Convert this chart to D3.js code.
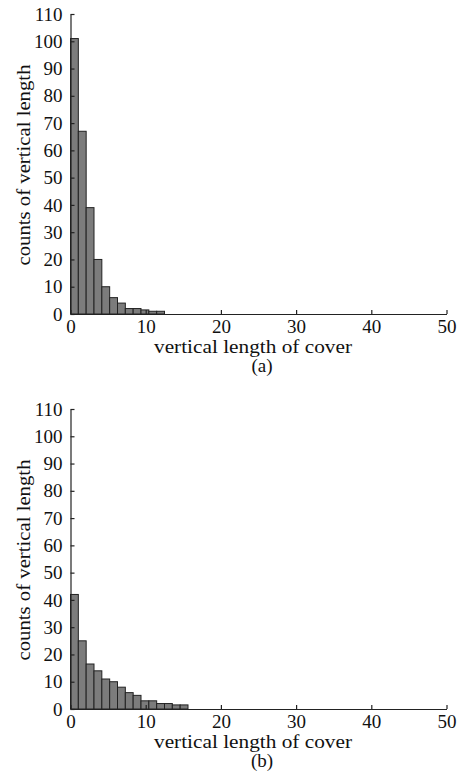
<!DOCTYPE html>
<html>
<head>
    <title>Vertical length histograms</title>
    <script src="https://d3js.org/d3.v7.min.js"></script>
    <style>
        body { margin: 0; background: #fff; }
        text { font-family: "Liberation Serif", "Times New Roman", serif; fill: #111; }
        .axis path, .axis line { stroke: #222; stroke-width: 1.2; }
        .axis text { font-size: 19px; font-family: "Liberation Serif", serif; fill: #111; }
    </style>
</head>
<body>
    <svg width="457" height="782"></svg>

    <script>
        // histogram counts per bin (48 bins over 0..50)
        var countsA = [101, 67, 39, 20, 10, 6, 4, 2, 2, 1.5, 1, 1];
        var countsB = [42, 25, 16.5, 14, 11, 10, 8, 6, 5, 3, 3, 2, 2, 1.5, 1.5];
        var xTicks = [0, 10, 20, 30, 40, 50];
        var yTicks = [0, 10, 20, 30, 40, 50, 60, 70, 80, 90, 100, 110];
        var binCount = 48;

        var svg = d3.select('svg');
        var left = 70.5, right = 446.5;

        function drawPanel(counts, top, bottom, tag) {
            var x = d3.scaleLinear().domain([0, 50]).range([left, right]);
            var y = d3.scaleLinear().domain([0, 110]).range([bottom, top]);
            var bw = 50 / binCount;
            var g = svg.append('g');

            g.selectAll('rect')
                .data(counts)
                .enter()
                .append('rect')
                .attr('x', function(d, i) { return x(i * bw); })
                .attr('width', function(d, i) { return x((i + 1) * bw) - x(i * bw); })
                .attr('y', function(d) { return y(d); })
                .attr('height', function(d) { return y(0) - y(d); })
                .attr('fill', '#7c7c7c')
                .attr('stroke', '#222')
                .attr('stroke-width', 1);

            g.append('g')
                .attr('class', 'axis')
                .attr('transform', 'translate(0,' + bottom + ')')
                .call(d3.axisBottom(x).tickValues(xTicks).tickSizeInner(-4).tickSizeOuter(0).tickPadding(6));

            g.append('g')
                .attr('class', 'axis')
                .attr('transform', 'translate(' + left + ',0)')
                .call(d3.axisLeft(y).tickValues(yTicks).tickSizeInner(-4).tickSizeOuter(0).tickPadding(8));

            g.append('text')
                .attr('x', 253)
                .attr('y', bottom + 39)
                .attr('text-anchor', 'middle')
                .attr('textLength', 198)
                .attr('lengthAdjust', 'spacingAndGlyphs')
                .style('font-size', '19px')
                .text('vertical length of cover');

            g.append('text')
                .attr('x', 262)
                .attr('y', bottom + 58)
                .attr('text-anchor', 'middle')
                .style('font-size', '19px')
                .text(tag);

            g.append('text')
                .attr('transform', 'translate(30,' + ((top + bottom) / 2 + 1) + ') rotate(-90)')
                .attr('text-anchor', 'middle')
                .attr('textLength', 201)
                .attr('lengthAdjust', 'spacingAndGlyphs')
                .style('font-size', '19px')
                .text('counts of vertical length');
        }

        drawPanel(countsA, 14, 314, '(a)');
        drawPanel(countsB, 409, 709, '(b)');
    </script>
</body>
</html>
